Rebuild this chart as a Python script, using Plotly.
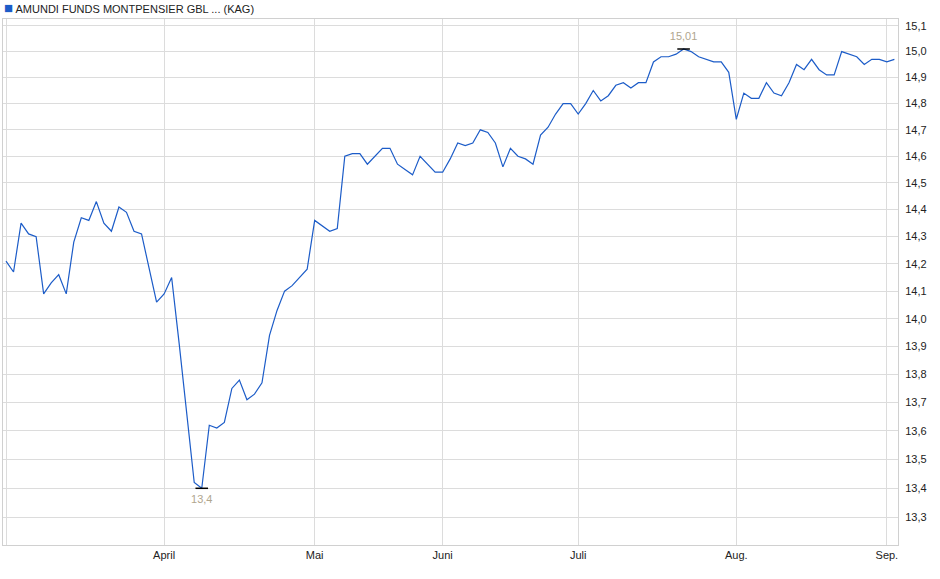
import plotly.graph_objects as go

# Fund price (KAG) per trading day, grouped by month
march = [14.21, 14.17, 14.35, 14.31, 14.30, 14.09, 14.13, 14.16, 14.09, 14.28, 14.37,
         14.36, 14.43, 14.35, 14.32, 14.41, 14.39, 14.32, 14.31, 14.18, 14.06]
april = [14.09, 14.15, 13.91, 13.65, 13.42, 13.40, 13.62, 13.61, 13.63, 13.75, 13.78,
         13.71, 13.73, 13.77, 13.94, 14.03, 14.10, 14.12, 14.15, 14.18]
may = [14.36, 14.34, 14.32, 14.33, 14.60, 14.61, 14.61, 14.57, 14.60, 14.63, 14.63,
       14.57, 14.55, 14.53, 14.60, 14.57, 14.54]
june = [14.54, 14.59, 14.65, 14.64, 14.65, 14.70, 14.69, 14.65, 14.56, 14.63, 14.60,
        14.59, 14.57, 14.68, 14.71, 14.76, 14.80, 14.80]
july = [14.76, 14.80, 14.85, 14.81, 14.83, 14.87, 14.88, 14.86, 14.88, 14.88, 14.96,
        14.98, 14.98, 14.99, 15.01, 15.00, 14.98, 14.97, 14.96, 14.96, 14.92]
august = [14.74, 14.84, 14.82, 14.82, 14.88, 14.84, 14.83, 14.88, 14.95, 14.93, 14.97,
          14.93, 14.91, 14.91, 15.00, 14.99, 14.98, 14.95, 14.97, 14.97]
september = [14.96, 14.97]

months = [march, april, may, june, july, august, september]
month_labels = ["", "April", "Mai", "Juni", "Juli", "Aug.", "Sep."]
y_ticks = [13.3, 13.4, 13.5, 13.6, 13.7, 13.8, 13.9, 14.0, 14.1, 14.2,
           14.3, 14.4, 14.5, 14.6, 14.7, 14.8, 14.9, 15.0, 15.1]
series_name = "AMUNDI FUNDS MONTPENSIER GBL ... (KAG)"

values = [v for m in months for v in m]
x = list(range(len(values)))
month_first = []
pos = 0
for m in months:
    month_first.append(pos)
    pos += len(m)

i_max = max(range(len(values)), key=lambda i: values[i])
i_min = min(range(len(values)), key=lambda i: values[i])


def fmt(v):
    return f"{v:g}".replace(".", ",")


def fmt1(v):
    return f"{v:.1f}".replace(".", ",")


LINE = "#1c5cc8"
FONT = "Liberation Sans, Arial, sans-serif"

fig = go.Figure()
fig.add_trace(go.Scatter(x=x, y=values, mode="lines",
                         line=dict(color=LINE, width=1.2), showlegend=False,
                         hoverinfo="x+y"))
fig.add_trace(go.Scatter(x=[x[i_max]], y=[values[i_max]], mode="markers+text",
                         text=[fmt(values[i_max])], textposition="top center",
                         textfont=dict(color="#b0a68e", size=11, family=FONT),
                         marker=dict(symbol="line-ew", size=9,
                                     line=dict(color="#000000", width=1.5)),
                         showlegend=False))
fig.add_trace(go.Scatter(x=[x[i_min]], y=[values[i_min]], mode="markers+text",
                         text=[fmt(values[i_min])], textposition="bottom center",
                         textfont=dict(color="#b0a68e", size=11, family=FONT),
                         marker=dict(symbol="line-ew", size=9,
                                     line=dict(color="#000000", width=1.5)),
                         showlegend=False))

fig.add_annotation(xref="paper", yref="paper", x=0, y=1, xanchor="left",
                   yanchor="bottom", yshift=2, xshift=0, borderpad=0,
                   showarrow=False,
                   text=(f"<span style='color:{LINE};font-size:15px'>■</span>"
                         f" {series_name}"),
                   font=dict(size=11, color="#222222", family=FONT))

fig.update_layout(
    width=940, height=579,
    margin=dict(l=3, r=42, t=19, b=34),
    paper_bgcolor="white", plot_bgcolor="white",
    separators=",.",
    font=dict(family=FONT, size=11, color="#222222"),
    showlegend=False,
)
fig.update_xaxes(
    range=[-0.4, len(values) - 1 + 0.48],
    tickmode="array", tickvals=month_first, ticktext=month_labels,
    showgrid=True, gridcolor="#dcdcdc", gridwidth=1,
    showline=True, linecolor="#d0d0d0", mirror=True,
    zeroline=False, ticks="", tickfont=dict(size=11, color="#222222"),
)
fig.update_yaxes(
    type="log", side="right",
    range=[1.120745, 1.179747],
    tickmode="array", tickvals=y_ticks, ticktext=[fmt1(t) for t in y_ticks],
    showgrid=True, gridcolor="#dcdcdc", gridwidth=1,
    showline=True, linecolor="#d0d0d0", mirror=True,
    zeroline=False, ticks="", ticklabelstandoff=4,
    tickfont=dict(size=11, color="#222222"),
)

fig.write_html("out.html", config={"displayModeBar": False},
               post_script="document.body.style.margin='0';document.body.style.padding='0';")
